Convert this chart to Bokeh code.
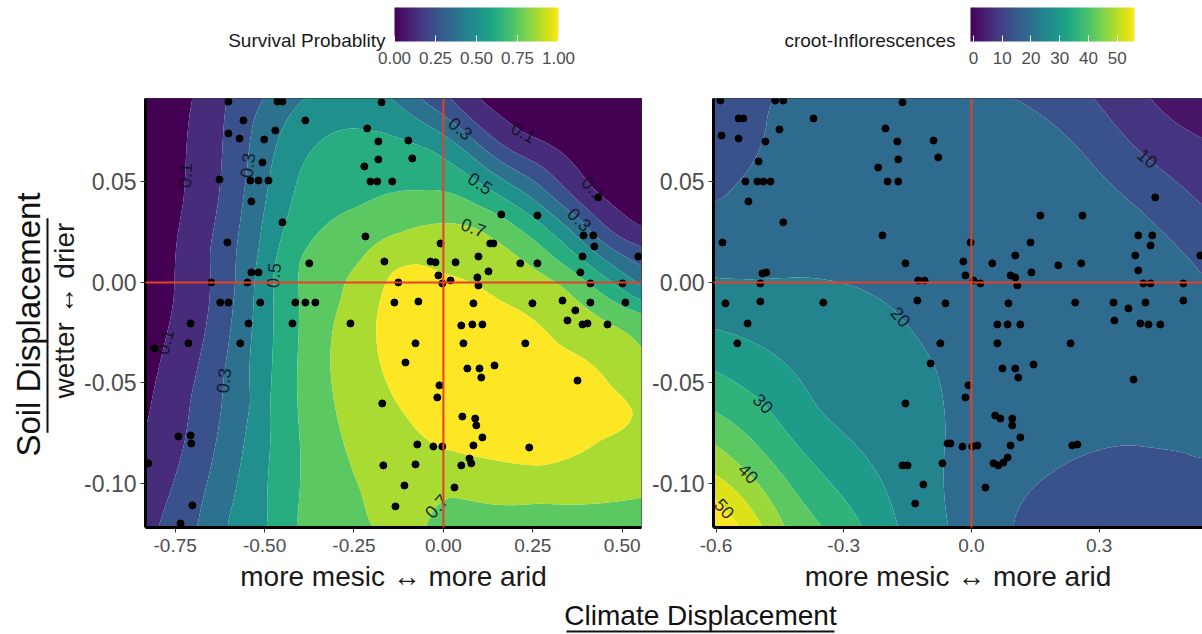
import numpy as np
from bokeh.plotting import figure
from bokeh.layouts import column, row
from bokeh.models import (Range1d, FixedTicker, NumeralTickFormatter, ColorBar,
                          LinearColorMapper, Span, ColumnDataSource)
from bokeh.palettes import Viridis256
from bokeh.core.properties import value
from bokeh.embed import file_html
from bokeh.resources import INLINE

FONT = "Liberation Sans"

# ---------------------------------------------------------------------------
# Survival probability: (climate, soil) positions lying on each contour level
surv_level = [0.1] * 9 + [0.2] * 7 + [0.3] * 9 + [0.4] * 8 + [0.5] * 9 + [0.6] * 8 + \
             [0.7] * 14 + [0.8] * 14 + [0.86, 0.85, 0.04, 0.03, 0.17, 0.65, 0.06]
surv_climate = [-0.702, -0.727, -0.755, -0.791, -0.825, 0.103, 0.224, 0.419, 0.554,
                -0.604, -0.652, -0.707, -0.791, 0.020, 0.271, 0.554,
                -0.503, -0.548, -0.582, -0.615, -0.685, -0.064, 0.048, 0.378, 0.554,
                -0.386, -0.148, -0.517, -0.540, -0.601, 0.076, 0.355, 0.554,
                -0.400, -0.204, -0.036, 0.103, 0.327, 0.554, -0.475, -0.484, -0.492,
                -0.232, -0.064, 0.098, 0.554, -0.400, -0.408, -0.408, 0.327,
                -0.120, 0.084, 0.327, 0.554, -0.232, -0.288, -0.316, -0.288, -0.232, -0.196,
                0.554, 0.271, 0.020, -0.050,
                -0.008, 0.159, 0.327, 0.467, 0.529, 0.439, 0.271, 0.076, -0.008, -0.106,
                -0.171, -0.187, -0.143, -0.078,
                0.215, 0.383, -0.833, 0.554, -0.833, 0.554, -0.833]
surv_soil = [0.0915, 0.0408, -0.0090, -0.0388, -0.0672, 0.0915, 0.0746, 0.0468, 0.0279,
             0.0915, 0.0159, -0.0587, -0.1184, 0.0915, 0.0582, 0.0179,
             0.0915, 0.0582, 0.0010, -0.0488, -0.1184, 0.0915, 0.0766, 0.0318, 0.0080,
             0.0915, 0.0915, 0.0159, -0.0587, -0.1184, 0.0632, 0.0259, -0.0015,
             0.0557, 0.0756, 0.0657, 0.0493, 0.0209, -0.0090, 0.0035, -0.0587, -0.1184,
             0.0383, 0.0458, 0.0383, -0.0154, 0.0109, -0.0587, -0.1184, 0.0100,
             0.0249, 0.0274, -0.0015, -0.0323, 0.0109, -0.0090, -0.0388, -0.0736, -0.1035, -0.1219,
             -0.1070, -0.1100, -0.1070, -0.1219,
             0.0050, -0.0090, -0.0313, -0.0512, -0.0647, -0.0786, -0.0910, -0.0861, -0.0821, -0.0662,
             -0.0438, -0.0189, 0.0050, 0.0090,
             -0.0438, -0.0587, 0.0915, 0.0915, -0.1219, -0.1219, -0.0090]

# Inflorescences: (climate, soil) positions lying on each contour level
infl_level = [15] * 14 + [10] * 3 + [5] * 2 + [20] * 7 + [25] * 3 + [30] * 3 + [35] * 2 + \
             [40] * 3 + [45] * 2 + [50] * 2 + [17.5, 17.5, 17.5, 17.5, 13, 2.5, 13, 54]
infl_climate = [-0.606, -0.555, -0.508, -0.484, -0.468, 0.099, 0.256, 0.397, 0.543,
                0.099, 0.186, 0.357, 0.498, 0.543,
                0.287, 0.414, 0.543,
                0.421, 0.543,
                -0.606, -0.402, -0.284, -0.186, -0.085, -0.061, -0.054,
                -0.606, -0.355, -0.172,
                -0.606, -0.489, -0.256,
                -0.606, -0.350,
                -0.606, -0.524, -0.437,
                -0.606, -0.491,
                -0.606, -0.543,
                -0.214, 0.068, 0.186, 0.115, -0.606, 0.543, 0.543, -0.606]
infl_soil = [0.0398, 0.0483, 0.0617, 0.0756, 0.0896, 0.0915, 0.0657, 0.0358, 0.0035,
             -0.1219, -0.0950, -0.0811, -0.0846, -0.0871,
             0.0915, 0.0617, 0.0383,
             0.0915, 0.0716,
             0.0025, 0.0025, -0.0015, -0.0129, -0.0423, -0.0751, -0.1219,
             -0.0229, -0.0637, -0.1219,
             -0.0438, -0.0602, -0.1219,
             -0.0637, -0.1219,
             -0.0801, -0.0950, -0.1219,
             -0.0950, -0.1219,
             -0.1070, -0.1219,
             0.0507, 0.0507, -0.0488, -0.0090, 0.0915, 0.0915, -0.1219, -0.1219]

# Observed plants (survival data set)
surv_pt_climate = [
    -0.601, -0.464, -0.450, -0.173, -0.559, -0.386, -0.601, -0.470, -0.213, -0.570,
    -0.501, -0.182, -0.098, -0.182, -0.087, -0.506, -0.221, -0.626, -0.540, -0.517,
    -0.489, -0.204, -0.185, -0.143, -0.537, -0.450, -0.218, -0.604, -0.008, -0.375,
    -0.165, -0.036, -0.022, -0.537, -0.517, -0.014, -0.649, -0.548, -0.126, -0.003,
    -0.624, -0.601, -0.512, -0.414, -0.386, -0.358, -0.137, -0.070,
    0.162, 0.263, 0.433, 0.392, 0.419, 0.422, 0.131, 0.140, 0.098, 0.389,
    0.545, 0.034, 0.215, 0.263, 0.126, 0.383, 0.020, 0.095, 0.098, 0.411,
    0.501, 0.084, 0.249, 0.333, 0.369, 0.411, 0.509,
    -0.707, -0.545, -0.422, -0.260, -0.713, -0.808, -0.568, -0.078, -0.106, -0.011,
    -0.017, -0.171, -0.741, -0.707, -0.705, -0.073, -0.028, -0.003, -0.825, -0.168,
    -0.078, -0.109, -0.702, -0.134, -0.735,
    0.347, 0.389, 0.403, 0.459, 0.050, 0.081, 0.109, 0.056, 0.229, 0.067,
    0.101, 0.143, 0.106, 0.375, 0.053, 0.089, 0.092, 0.109, 0.084, 0.240,
    0.073, 0.078, 0.050, 0.031]
surv_pt_soil = [
    0.0900, 0.0900, 0.0900, 0.0896, 0.0806, 0.0806, 0.0741, 0.0756, 0.0766, 0.0716,
    0.0711, 0.0701, 0.0706, 0.0612, 0.0617, 0.0597, 0.0577, 0.0512, 0.0507, 0.0507,
    0.0507, 0.0502, 0.0502, 0.0502, 0.0403, 0.0299, 0.0229, 0.0199, 0.0194, 0.0095,
    0.0104, 0.0104, 0.0100, 0.0050, 0.0050, 0.0035, 0.0000, 0.0000, 0.0000, -0.0005,
    -0.0100, -0.0100, -0.0100, -0.0100, -0.0100, -0.0100, -0.0100, -0.0095,
    0.0338, 0.0333, 0.0423, 0.0234, 0.0234, 0.0179, 0.0194, 0.0194, 0.0129, 0.0129,
    0.0129, 0.0100, 0.0095, 0.0095, 0.0055, 0.0050, 0.0010, 0.0025, -0.0015, -0.0005,
    -0.0005, -0.0104, -0.0104, -0.0090, -0.0139, -0.0100, -0.0100,
    -0.0204, -0.0204, -0.0204, -0.0204, -0.0303, -0.0328, -0.0303, -0.0303, -0.0398, -0.0512,
    -0.0572, -0.0602, -0.0766, -0.0761, -0.0801, -0.0806, -0.0816, -0.0816, -0.0900, -0.0910,
    -0.0905, -0.1010, -0.1109, -0.1114, -0.1199,
    -0.0189, -0.0209, -0.0204, -0.0209, -0.0214, -0.0209, -0.0209, -0.0303, -0.0303, -0.0428,
    -0.0428, -0.0413, -0.0473, -0.0488, -0.0667, -0.0677, -0.0711, -0.0771, -0.0811, -0.0821,
    -0.0876, -0.0900, -0.0910, -0.1020]

# Observed plants (flowering data set)
infl_pt_climate = [
    -0.590, -0.461, -0.442, -0.162, -0.547, -0.536, -0.371, -0.587, -0.547, -0.484,
    -0.451, -0.202, -0.174, -0.089, -0.078, -0.172, -0.500, -0.219, -0.531, -0.503,
    -0.489, -0.472, -0.197, -0.172, -0.524, -0.442, -0.585, -0.209, -0.155, -0.491,
    -0.482, -0.496, -0.125, -0.110, -0.578, -0.496, -0.348, -0.127, -0.061,
    0.432, 0.162, 0.261, 0.392, 0.425, 0.421, 0.139, -0.002, 0.385, 0.538,
    0.103, -0.019, 0.049, 0.204, 0.258, 0.392, 0.141, -0.014, 0.092, 0.103,
    0.005, 0.021, 0.108, 0.404, 0.421, 0.498, 0.087, 0.244, 0.334, 0.369,
    0.409, 0.498,
    0.061, 0.085, 0.115, 0.336, 0.397, 0.416, 0.444, 0.061, 0.233, 0.073,
    0.103, 0.110, 0.146, 0.381, -0.007, -0.014, 0.056, 0.068, 0.096, 0.096,
    0.115, 0.092, -0.049, -0.021, 0.002, 0.014, 0.237, 0.249, 0.085, 0.075,
    0.063, 0.052, 0.033,
    -0.526, -0.550, -0.073, -0.096, -0.155, -0.056, -0.162, -0.150, -0.068, -0.113,
    -0.132]
infl_pt_soil = [
    0.0905, 0.0905, 0.0905, 0.0896, 0.0816, 0.0816, 0.0816, 0.0731, 0.0716, 0.0701,
    0.0761, 0.0766, 0.0701, 0.0706, 0.0622, 0.0612, 0.0602, 0.0572, 0.0502, 0.0502,
    0.0502, 0.0502, 0.0502, 0.0502, 0.0403, 0.0299, 0.0199, 0.0234, 0.0095, 0.0045,
    0.0050, -0.0005, 0.0010, 0.0010, -0.0104, -0.0095, -0.0100, -0.0090, -0.0104,
    0.0423, 0.0333, 0.0333, 0.0234, 0.0234, 0.0184, 0.0199, 0.0199, 0.0134, 0.0134,
    0.0134, 0.0104, 0.0095, 0.0085, 0.0095, 0.0060, 0.0050, 0.0035, 0.0035, 0.0025,
    0.0010, -0.0005, -0.0015, -0.0005, -0.0005, -0.0005, -0.0104, -0.0100, -0.0100, -0.0129,
    -0.0100, -0.0090,
    -0.0209, -0.0209, -0.0209, -0.0189, -0.0204, -0.0209, -0.0209, -0.0303, -0.0303, -0.0428,
    -0.0428, -0.0473, -0.0408, -0.0483, -0.0512, -0.0572, -0.0662, -0.0677, -0.0677, -0.0711,
    -0.0771, -0.0811, -0.0801, -0.0816, -0.0816, -0.0811, -0.0811, -0.0806, -0.0871, -0.0896,
    -0.0910, -0.0900, -0.1020,
    -0.0204, -0.0303, -0.0303, -0.0403, -0.0602, -0.0801, -0.0910, -0.0910, -0.0900, -0.1005,
    -0.1100]

# Contour labels: level and approximate place along the line
surv_lab_level = [0.1, 0.3, 0.5, 0.1, 0.3, 0.1, 0.1, 0.3, 0.3, 0.5, 0.7, 0.7]
surv_lab_climate = [-0.713, -0.548, -0.475, -0.763, -0.615, 0.224, 0.419, 0.048, 0.378, 0.103, 0.084, -0.036]
surv_lab_soil = [0.0532, 0.0582, 0.0035, -0.0303, -0.0488, 0.0746, 0.0468, 0.0766, 0.0308, 0.0493, 0.0274, -0.1045]

infl_lab_level = [10, 20, 30, 40, 50]
infl_lab_climate = [0.414, -0.162, -0.489, -0.524, -0.585]
infl_lab_soil = [0.0617, -0.0164, -0.0602, -0.0950, -0.1134]

surv_breaks = [0.0, 0.1, 0.2, 0.3, 0.4, 0.5, 0.6, 0.7, 0.8, 0.9, 1.0]
infl_breaks = [0, 5, 10, 15, 20, 25, 30, 35, 40, 45, 50, 55, 10000]

surv_xticks = [-0.75, -0.5, -0.25, 0.0, 0.25, 0.5]
infl_xticks = [-0.6, -0.3, 0.0, 0.3]
soil_ticks = [0.05, 0.0, -0.05, -0.10]

surv_key_ticks = [0, 0.25, 0.5, 0.75, 1.0]
infl_key_ticks = [0, 10, 20, 30, 40, 50]

# ---------------------------------------------------------------------------
SOIL_RANGE = (-0.1219, 0.0915)
LEFT_RANGE = (-0.833, 0.554)
RIGHT_RANGE = (-0.606, 0.543)
TOP_H = 80
MID_H, TOP_B, BOT_B = 520, 18, 73
LEFT_W, RIGHT_W = 568, 554

frame_h = MID_H - TOP_B - BOT_B
soil_px = frame_h / (SOIL_RANGE[1] - SOIL_RANGE[0])
left_px = (LEFT_W - 65 - 7) / (LEFT_RANGE[1] - LEFT_RANGE[0])
right_px = (RIGHT_W - 65) / (RIGHT_RANGE[1] - RIGHT_RANGE[0])


class SmoothSurface:
    """Thin-plate spline through the contour positions, in screen-like units."""

    def __init__(self, cx, sd, vals, sx, sy, smooth=2e-3):
        self.sx, self.sy = sx / 100.0, sy / 100.0
        self.u = np.asarray(cx, float) * self.sx
        self.v = np.asarray(sd, float) * self.sy
        n = len(self.u)
        P = np.column_stack([np.ones(n), self.u, self.v])
        K = self._kernel(self.u, self.v)
        A = np.zeros((n + 3, n + 3))
        A[:n, :n] = K + smooth * np.eye(n)
        A[:n, n:] = P
        A[n:, :n] = P.T
        sol = np.linalg.solve(A, np.concatenate([np.asarray(vals, float), np.zeros(3)]))
        self.w, self.a = sol[:n], sol[n:]

    def _kernel(self, u, v):
        d = np.hypot(u[:, None] - self.u[None, :], v[:, None] - self.v[None, :])
        safe = np.where(d > 0, d, 1.0)
        return d * d * np.log(safe)

    def __call__(self, cx, sd):
        cx = np.asarray(cx, float)
        shape = cx.shape
        u = cx.ravel() * self.sx
        v = np.asarray(sd, float).ravel() * self.sy
        out = self._kernel(u, v) @ self.w + self.a[0] + self.a[1] * u + self.a[2] * v
        return out.reshape(shape)


lv = np.asarray(surv_level, float)
surv_logit = SmoothSurface(surv_climate, surv_soil, np.log(lv / (1 - lv)), left_px, soil_px)
infl_log = SmoothSurface(infl_climate, infl_soil, np.log(np.asarray(infl_level, float)),
                         right_px, soil_px)


def surv_fn(cx, sd):
    return 1.0 / (1.0 + np.exp(-surv_logit(cx, sd)))


def infl_fn(cx, sd):
    return np.exp(infl_log(cx, sd))


def viridis_at(t):
    return Viridis256[int(round(min(max(t, 0.0), 1.0) * 255))]


def label_layout(fn, levels, cxs, sds, px_x, px_y):
    """Slide each label onto its contour and turn it along the line."""
    xs, ys, angs, txt = [], [], [], []
    for L, x, y in zip(levels, cxs, sds):
        h = 1e-5
        gu = gv = 1.0
        for _ in range(25):
            fx = float((fn(x + h, y) - fn(x - h, y)) / (2 * h))
            fy = float((fn(x, y + h) - fn(x, y - h)) / (2 * h))
            gu, gv = fx / px_x, fy / px_y
            g2 = gu * gu + gv * gv
            miss = float(L - fn(x, y))
            du, dv = miss / g2 * gu, miss / g2 * gv
            scale = min(1.0, 15.0 / max(np.hypot(du, dv), 1e-9))
            x += du * scale / px_x
            y += dv * scale / px_y
        a = np.arctan2(gu, -gv)
        if a > np.pi / 2:
            a -= np.pi
        elif a <= -np.pi / 2:
            a += np.pi
        xs.append(x)
        ys.append(y)
        angs.append(float(a))
        txt.append(f"{L:g}")
    return ColumnDataSource(dict(x=xs, y=ys, angle=angs, text=txt))


def panel(width, xr, xticks, xfmt, border_left, border_right):
    p = figure(width=width, height=MID_H, x_range=Range1d(*xr), y_range=Range1d(*SOIL_RANGE),
               toolbar_location=None, output_backend="svg",
               min_border_left=border_left, min_border_right=border_right,
               min_border_top=TOP_B, min_border_bottom=BOT_B,
               outline_line_color="#333333", outline_line_width=1,
               background_fill_color="white")
    p.grid.visible = False
    xa, ya = p.xaxis[0], p.yaxis[0]
    xa.ticker = FixedTicker(ticks=xticks)
    xa.formatter = NumeralTickFormatter(format=xfmt)
    ya.ticker = FixedTicker(ticks=soil_ticks)
    ya.formatter = NumeralTickFormatter(format="0.00")
    for ax in (xa, ya):
        ax.axis_line_width = 3
        ax.axis_line_color = "black"
        ax.major_tick_line_color = "#333333"
        ax.major_tick_line_width = 1
        ax.major_tick_out = 5
        ax.major_tick_in = 0
        ax.minor_tick_line_color = None
        ax.major_label_text_font = FONT
        ax.major_label_text_color = "#4d4d4d"
        ax.major_label_standoff = 4
    xa.major_label_standoff = 6
    xa.major_label_text_font_size = "19px"
    ya.major_label_text_font_size = "23px"
    xa.axis_label = "more mesic \u2194 more arid"
    xa.axis_label_text_font = FONT
    xa.axis_label_text_font_size = "28px"
    xa.axis_label_text_font_style = "normal"
    xa.axis_label_text_color = "#1a1a1a"
    xa.axis_label_standoff = 6
    return p


def draw(p, fn, xr, breaks, colors, pts_x, pts_y, lab_src):
    gx = np.linspace(xr[0] - 0.01, xr[1] + 0.01, 240)
    gy = np.linspace(SOIL_RANGE[0] - 0.003, SOIL_RANGE[1] + 0.003, 240)
    X, Y = np.meshgrid(gx, gy)
    Z = fn(X, Y)
    p.contour(gx, gy, Z, breaks, fill_color=colors, line_color=None)
    p.scatter(pts_x, pts_y, size=7, color="black")
    p.add_layout(Span(location=0, dimension="height", line_color="#E4402A", line_width=2))
    p.add_layout(Span(location=0, dimension="width", line_color="#E4402A", line_width=2))
    p.text(x="x", y="y", text="text", angle="angle", source=lab_src,
           text_font=value(FONT), text_font_size="18px", text_align="center",
           text_baseline="middle", text_color="#111122", text_alpha=0.9)


left = panel(LEFT_W, LEFT_RANGE, surv_xticks, "0.00", 65, 7)
right = panel(RIGHT_W, RIGHT_RANGE, infl_xticks, "0.0", 65, 0)

surv_colors = [viridis_at(i / 8) for i in range(10)]
infl_colors = [viridis_at((i + 0.5) / 10) for i in range(12)]

draw(left, surv_fn, LEFT_RANGE, surv_breaks, surv_colors, surv_pt_climate, surv_pt_soil,
     label_layout(surv_fn, surv_lab_level, surv_lab_climate, surv_lab_soil, left_px, soil_px))
draw(right, infl_fn, RIGHT_RANGE, infl_breaks, infl_colors, infl_pt_climate, infl_pt_soil,
     label_layout(infl_fn, infl_lab_level, infl_lab_climate, infl_lab_soil, right_px, soil_px))

# ---------------------------------------------------------------------------
# colour keys along the top
top = figure(width=1202, height=TOP_H, x_range=Range1d(0, 1202), y_range=Range1d(TOP_H, 0),
             toolbar_location=None, output_backend="svg", min_border=0,
             x_axis_location=None, y_axis_location=None, outline_line_color=None)
top.grid.visible = False

KEY_W, KEY_H, KEY_TOP = 164, 34, 8


def key(mapper, ticks, fmt, x):
    return ColorBar(color_mapper=mapper, orientation="horizontal", width=KEY_W, height=KEY_H,
                    location=(x, 14), padding=0, margin=0, title=None,
                    ticker=FixedTicker(ticks=ticks), formatter=NumeralTickFormatter(format=fmt),
                    major_label_text_font=FONT, major_label_text_font_size="17px",
                    major_label_text_color="#4d4d4d", label_standoff=10,
                    major_tick_line_color="white", major_tick_in=6, major_tick_out=0,
                    minor_tick_line_color=None, bar_line_color=None,
                    border_line_color=None, background_fill_alpha=0)


def key_top_ticks(ticks, low, high, x):
    xs = [x + (t - low) / (high - low) * KEY_W for t in ticks]
    top.segment(x0=xs, y0=[KEY_TOP] * len(xs), x1=xs, y1=[KEY_TOP + 6] * len(xs),
                line_color="white", line_width=1)


surv_map = LinearColorMapper(palette=Viridis256, low=0, high=1)
infl_map = LinearColorMapper(palette=Viridis256, low=-1, high=56)
top.add_layout(key(surv_map, surv_key_ticks, "0.00", 394), "center")
top.add_layout(key(infl_map, infl_key_ticks, "0", 970), "center")
key_top_ticks(surv_key_ticks, 0, 1, 394)
key_top_ticks(infl_key_ticks, -1, 56, 970)
top.text(x=[385, 955], y=[40, 40], text=["Survival Probablity", "croot-Inflorescences"],
         text_font=value(FONT), text_font_size="19px", text_align="right",
         text_baseline="middle", text_color="#1a1a1a")

# ---------------------------------------------------------------------------
# vertical title on the left
ytit = figure(width=80, height=MID_H, x_range=Range1d(0, 80), y_range=Range1d(MID_H, 0),
              toolbar_location=None, output_backend="svg", min_border=0,
              x_axis_location=None, y_axis_location=None, outline_line_color=None)
ytit.grid.visible = False
ytit.text(x=[28], y=[274], text=["Soil Displacement"], angle=[np.pi / 2],
          text_font=value(FONT), text_font_size="33px", text_align="center",
          text_baseline="middle", text_color="#111111")
ytit.segment(x0=[47], y0=[145], x1=[47], y1=[405], line_width=2, line_color="#111111")
ytit.text(x=[64], y=[257], text=["wetter \u2194 drier"], angle=[np.pi / 2],
          text_font=value(FONT), text_font_size="28px", text_align="center",
          text_baseline="middle", text_color="#1a1a1a")

# bottom title
bot_h = 634 - TOP_H - MID_H
bot = figure(width=1202, height=bot_h, x_range=Range1d(0, 1202), y_range=Range1d(bot_h, 0),
             toolbar_location=None, output_backend="svg", min_border=0,
             x_axis_location=None, y_axis_location=None, outline_line_color=None)
bot.grid.visible = False
bot.text(x=[700], y=[15], text=["Climate Displacement"], text_font=value(FONT),
         text_font_size="28px", text_align="center", text_baseline="middle",
         text_color="#111111")
bot.segment(x0=[566], y0=[31], x1=[834], y1=[31], line_width=2, line_color="#111111")

layout = column(top, row(ytit, left, right, spacing=0), bot, spacing=0)

with open("out.html", "w") as fh:
    fh.write(file_html(layout, INLINE))
